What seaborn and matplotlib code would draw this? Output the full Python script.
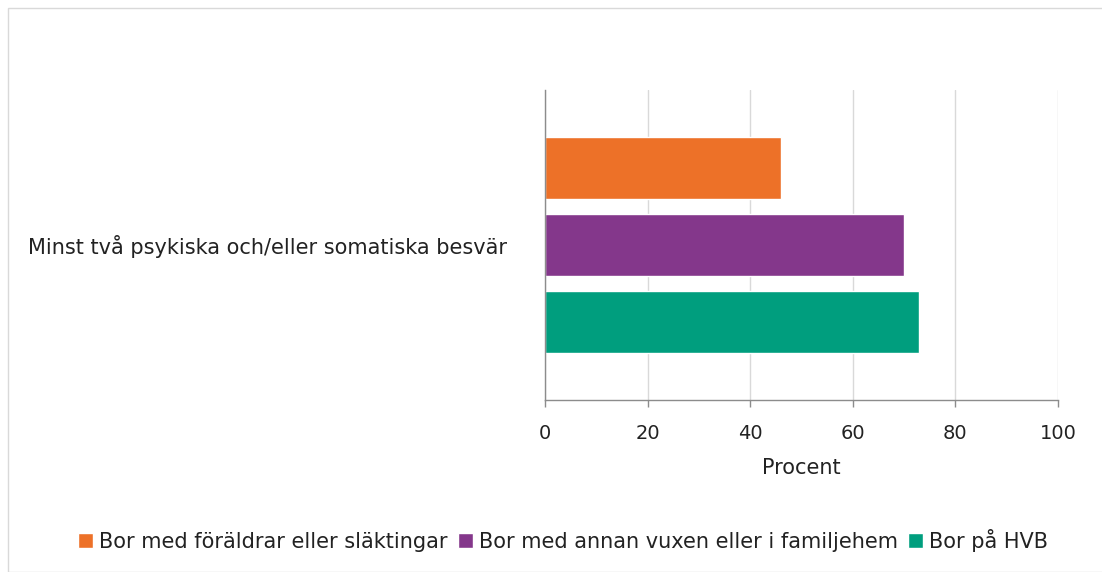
import matplotlib
matplotlib.use("Agg")
import matplotlib.pyplot as plt
import seaborn as sns
import pandas as pd
from matplotlib.patches import Rectangle

categories = ["Minst två psykiska och/eller somatiska besvär"]
groups = ["Bor med föräldrar eller släktingar",
          "Bor med annan vuxen eller i familjehem",
          "Bor på HVB"]
values = [46, 70, 73]
colors = ["#ED7128", "#84378B", "#009E7E"]
x_ticks = [0, 20, 40, 60, 80, 100]

df = pd.DataFrame({
    "kategori": categories * len(groups),
    "grupp": groups,
    "procent": values,
})

sns.set_theme(style="white")
plt.rcParams['font.family'] = ['DejaVu Sans']

fig = plt.figure(figsize=(11.02, 5.72), dpi=100)
ax = fig.add_axes([545/1102, 1 - 400/572, (1058-545)/1102, (400-90)/572])

sns.barplot(data=df, y="kategori", x="procent", hue="grupp",
            hue_order=groups, palette=colors, orient="h",
            width=0.745, gap=0.19, ax=ax, legend=True, saturation=1)

ax.set_xlim(0, 100)
ax.set_xticks(x_ticks)
ax.set_xticklabels([str(t) for t in x_ticks], fontsize=14, color="#222222")
ax.tick_params(axis="y", labelsize=15, colors="#222222", length=0, pad=27)
ax.tick_params(axis="x", bottom=True, length=5, width=1, color="#8c8c8c",
               direction="out", pad=12)
ax.set_ylabel("")
ax.set_xlabel("Procent", fontsize=15, color="#222222", labelpad=11)
ax.grid(axis="x", color="#d9d9d9", linewidth=1)
ax.set_axisbelow(True)
for s in ["top", "right"]:
    ax.spines[s].set_visible(False)
for s in ["left", "bottom"]:
    ax.spines[s].set_color("#8c8c8c")
    ax.spines[s].set_linewidth(1)

handles, labels = ax.get_legend_handles_labels()
ax.legend_.remove()
fig.legend(handles, labels, loc="center", bbox_to_anchor=(0.511, 1 - 540/572),
           ncol=3, frameon=False, fontsize=15, handlelength=0.7, handleheight=0.7,
           handletextpad=0.3, columnspacing=0.5, labelcolor="#222222")

fig.patches.append(Rectangle((8/1102, 0), 1.2, 1 - 8/572, transform=fig.transFigure,
                             fill=False, edgecolor="#d9d9d9", linewidth=1))

fig.savefig("out.png", dpi=100)
